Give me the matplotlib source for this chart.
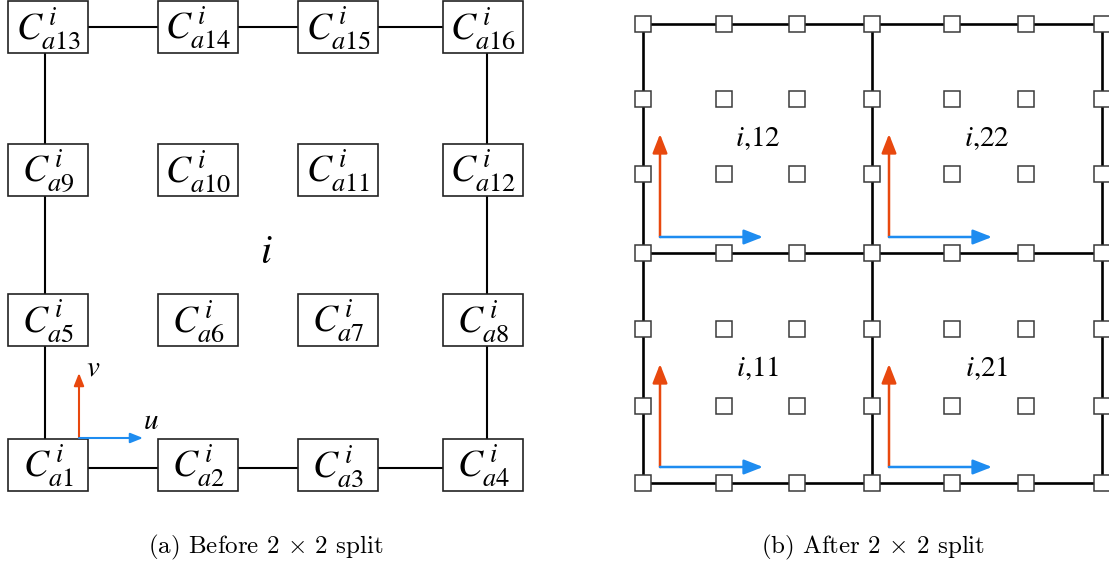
import matplotlib
matplotlib.use('Agg')
import matplotlib.pyplot as plt
from matplotlib.patches import Rectangle

plt.rcParams['mathtext.fontset'] = 'stix'

# left panel: node centres (pixels), bottom row first
left_cols = [48, 198, 338, 483]
left_rows = [465, 320, 170, 27]
frame_x = [45, 487]
frame_y = [27, 468]
box_w, box_h = 80, 52

# right panel: grid node positions (pixels)
grid_x = [643, 724, 797, 872, 952, 1026, 1102]
grid_y = [24, 99, 174, 253, 329, 406, 483]
cell_names = [['i,12', 'i,22'], ['i,11', 'i,21']]  # [top row, bottom row]

captions = [r'(a) Before 2 $\times$ 2 split', r'(b) After 2 $\times$ 2 split']
caption_x = [266, 873]

red = '#E8480E'
blue = '#1E8CF0'

fig = plt.figure(figsize=(11.09, 5.67), dpi=100)
ax = fig.add_axes([0, 0, 1, 1])
ax.set_xlim(0, 1109)
ax.set_ylim(567, 0)
ax.axis('off')

# ---- (a) before split ----
ax.plot([frame_x[0], frame_x[1], frame_x[1], frame_x[0], frame_x[0]],
        [frame_y[0], frame_y[0], frame_y[1], frame_y[1], frame_y[0]],
        color='black', lw=1.5, zorder=1)

for r, yc in enumerate(left_rows):
    for c, xc in enumerate(left_cols):
        k = r * 4 + c + 1
        ax.add_patch(Rectangle((xc - box_w / 2, yc - box_h / 2), box_w, box_h,
                               facecolor='white', edgecolor='#222222', lw=1.2, zorder=2))
        ax.text(xc, yc + 2, r'$C^{\,i}_{a%d}$' % k, fontsize=27,
                ha='center', va='center', zorder=3)

ax.text(266, 252, r'$i$', fontsize=29, ha='center', va='center')

# local axes arrows at node 1
ox, oy = 79, 438
ax.annotate('', xy=(ox, oy - 65), xytext=(ox, oy),
            arrowprops=dict(arrowstyle='-|>,head_length=0.75,head_width=0.3',
                            color=red, lw=1.5, shrinkA=0, shrinkB=0))
ax.annotate('', xy=(ox + 64, oy), xytext=(ox, oy),
            arrowprops=dict(arrowstyle='-|>,head_length=0.75,head_width=0.3',
                            color=blue, lw=1.5, shrinkA=0, shrinkB=0))
ax.text(93, 368, r'$v$', fontsize=21, ha='center', va='center')
ax.text(151, 421, r'$u$', fontsize=21, ha='center', va='center')

# ---- (b) after split ----
for i in (0, 3, 6):
    ax.plot([grid_x[i], grid_x[i]], [grid_y[0], grid_y[6]], color='black', lw=1.9, zorder=1)
    ax.plot([grid_x[0], grid_x[6]], [grid_y[i], grid_y[i]], color='black', lw=1.9, zorder=1)

sq = 16
for xc in grid_x:
    for yc in grid_y:
        ax.add_patch(Rectangle((xc - sq / 2, yc - sq / 2), sq, sq,
                               facecolor='white', edgecolor='#3a3a3a', lw=1.1, zorder=2))

for r in range(2):
    for c in range(2):
        x0, x1 = grid_x[3 * c], grid_x[3 * c + 3]
        y0, y1 = grid_y[3 * r], grid_y[3 * r + 3]
        ax.text((x0 + x1) / 2, (y0 + y1) / 2, r'$i$,' + cell_names[r][c][2:],
                fontsize=21, family='STIXGeneral', ha='center', va='center')
        px, py = x0 + 17, y1 - 16
        ax.annotate('', xy=(px, py - 103), xytext=(px, py),
                    arrowprops=dict(arrowstyle='-|>,head_length=1.15,head_width=0.45',
                                    color=red, lw=1.8, shrinkA=0, shrinkB=0), zorder=3)
        ax.annotate('', xy=(px + 103, py), xytext=(px, py),
                    arrowprops=dict(arrowstyle='-|>,head_length=1.15,head_width=0.45',
                                    color=blue, lw=1.8, shrinkA=0, shrinkB=0), zorder=3)

for cx, cap in zip(caption_x, captions):
    ax.text(cx, 547, cap, fontsize=18, family='cmr10', math_fontfamily='cm',
            ha='center', va='center')

fig.savefig('out.png', dpi=100)
